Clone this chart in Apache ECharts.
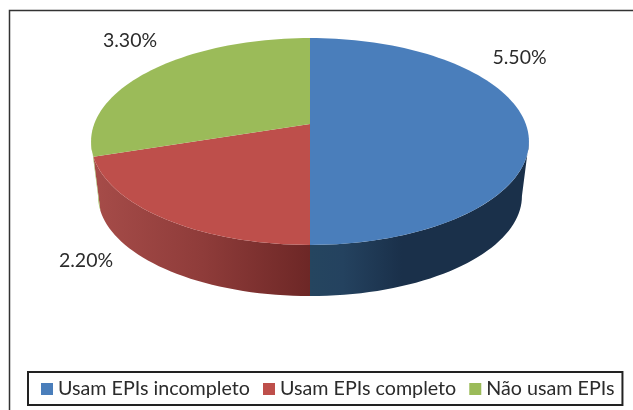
<!DOCTYPE html>
<html>
<head>
<meta charset="utf-8">
<title>EPIs</title>
<style>
    html, body { margin: 0; padding: 0; background: #fff; }
    #main { width: 633px; height: 410px; }
</style>
<script src="https://cdn.jsdelivr.net/npm/echarts@6/dist/echarts.min.js"></script>
</head>
<body>
<div id="main"></div>
<script>
var names = ['Usam EPIs incompleto', 'Usam EPIs completo', 'Não usam EPIs']
var values = [5.5, 2.2, 3.3]

var topColors = ['#4a7ebb', '#be4f4b', '#9bbb59']
var wallColors = [
    [[0, '#25455f'], [0.15, '#24425f'], [0.42, '#1a304a'], [1, '#1a304a']],
    [[0, '#a64c49'], [0.5, '#8f3c3a'], [1, '#6d2726']],
    [[0, '#9bbb59'], [1, '#9bbb59']]
]
// where the percentage texts sit, same order as names
var labelSpots = [[519.5, 58], [86, 261], [130, 41]]

// perspective disc: x,y is where the slices meet, k how strong the perspective is
var disc = { x: 310, y: 124, a: 215.8, b: 100.5, k: 0.169 }
var base = { y: 179, scale: 0.968 }

var total = values.reduce(function (s, v) { return s + v }, 0)

// the rim is only seen between the two points where the outline turns back
var sideFrom = Math.acos(-disc.k) * 180 / Math.PI
var sideTo = 360 - sideFrom

function project(deg, cy, scale) {
    var t = deg * Math.PI / 180
    var u = Math.sin(t)
    var v = -Math.cos(t)
    var w = 1 - disc.k * v
    return [disc.x + scale * disc.a * u / w, cy + scale * disc.b * v / w]
}

function arc(from, to, cy, scale) {
    var pts = []
    var n = Math.max(2, Math.ceil(Math.abs(to - from) / 2))
    for (var i = 0; i <= n; i++) {
        pts.push(project(from + (to - from) * i / n, cy, scale))
    }
    return pts
}

function renderSlice(idx, api) {
    var value = api.value(0)
    var before = 0
    for (var i = 0; i < idx; i++) before += values[i]
    var from = before / total * 360
    var to = (before + value) / total * 360

    var children = [{
        type: 'polygon',
        z2: 10,
        shape: { points: [[disc.x, disc.y]].concat(arc(from, to, disc.y, 1)) },
        style: { fill: topColors[idx] }
    }, {
        type: 'text',
        z2: 20,
        style: {
            x: labelSpots[idx][0],
            y: labelSpots[idx][1],
            text: value.toFixed(2) + '%',
            font: '19.5px Lato',
            fill: '#2b2b2b',
            textAlign: 'center',
            textVerticalAlign: 'middle'
        }
    }]

    var wallFrom = Math.max(from, sideFrom)
    var wallTo = Math.min(to, sideTo)
    if (wallTo > wallFrom) {
        var stops = wallColors[idx].map(function (s) { return { offset: s[0], color: s[1] } })
        children.push({
            type: 'polygon',
            z2: 1,
            shape: {
                points: arc(wallFrom, wallTo, disc.y, 1).concat(arc(wallFrom, wallTo, base.y, base.scale).reverse())
            },
            style: { fill: new echarts.graphic.LinearGradient(0, 0, 1, 0, stops) }
        })
    }
    return { type: 'group', children: children }
}

var chart = echarts.init(document.getElementById('main'))
chart.setOption({
    animation: false,
    color: topColors,
    legend: {
        left: 28,
        top: 372,
        icon: 'rect',
        itemWidth: 12,
        itemHeight: 12,
        itemGap: 13,
        padding: [7, 8, 6, 13],
        borderColor: '#222',
        borderWidth: 2,
        backgroundColor: '#fff',
        textStyle: { fontFamily: 'Lato', fontSize: 19.7, color: '#2b2b2b' },
        data: names
    },
    graphic: [{
        type: 'polyline',
        silent: true,
        shape: { points: [[9.5, 410], [9.5, 10.5], [633, 10.5]] },
        style: { stroke: '#333', lineWidth: 1.5, fill: null }
    }],
    series: names.map(function (name, i) {
        return {
            type: 'custom',
            name: name,
            coordinateSystem: 'none',
            itemStyle: { color: topColors[i] },
            data: [[values[i]]],
            renderItem: function (params, api) {
                return renderSlice(i, api)
            }
        }
    })
})
</script>
</body>
</html>
